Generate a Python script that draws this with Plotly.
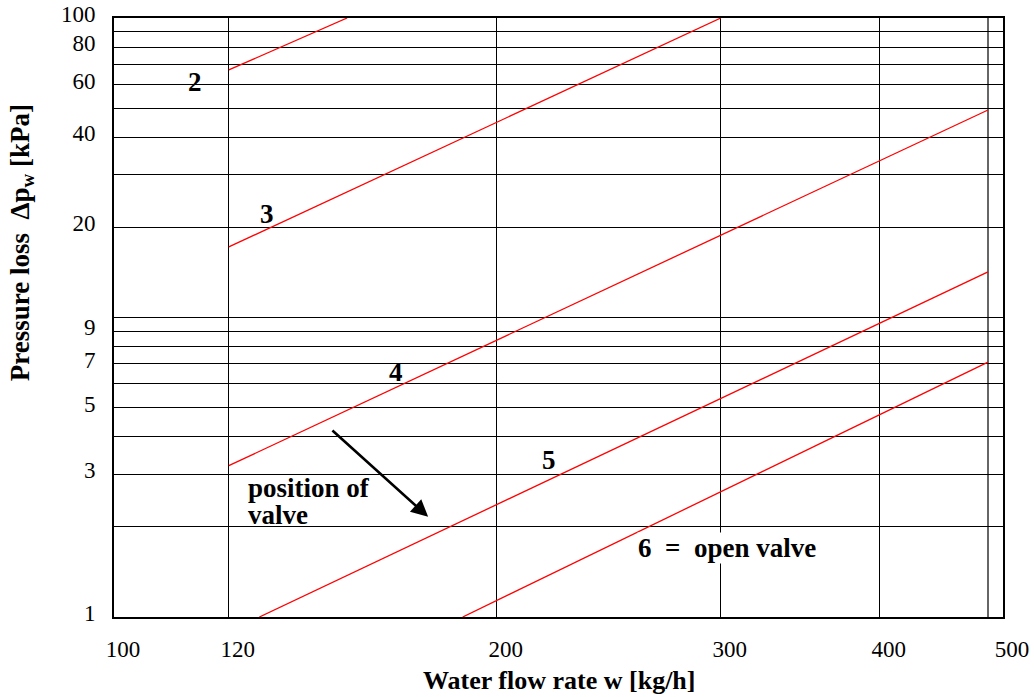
import numpy as np
import plotly.graph_objects as go

# Valve position curves (straight lines on log-log axes)
positions = ["2", "3", "4", "5", "6"]
flow_start = [123.1, 123.1, 123.1, 130.1, 188.0]
flow_end = [152.5, 300.0, 486.6, 486.6, 486.6]
dp_start = [67.1, 17.2, 3.2, 1.0, 1.0]
dp_end = [100.0, 100.0, 49.3, 14.2, 7.1]

# Curve label anchor points (flow, pressure loss)
label_text = ["2", "3", "4", "5", "6  =  open valve"]
label_flow = [115.8, 131.9, 166.6, 219.8, 303.3]
label_dp = [61.1, 22.2, 6.58, 3.34, 1.70]

# Axis ticks and grid
x_gridvals = [100, 123.1, 200, 300, 400, 500]
x_ticktext = ["100", "120", "200", "300", "400", "500"]
x_extra_grid = [486.6]
y_tickvals = [1, 3, 5, 7, 9, 20, 40, 60, 80, 100]
y_ticktext = ["1", "3", "5", "7", "9", "20", "40", "60", "80", "100"]
y_extra_grid = [2, 4, 6, 8, 10, 30, 50, 70, 90]

# "position of valve" note lines and arrow (flow, pressure loss)
note_lines = ["position of", "valve"]
note_flow = 127.3
note_dp = [2.70, 2.19]
arrow_tail = (148.1, 4.24)
arrow_head = (176.6, 2.16)

SERIF = "Liberation Serif"
L10 = np.log10
BOLD = dict(family=SERIF, size=27, color="black", weight="bold")

fig = go.Figure()
for name, w0, w1, p0, p1 in zip(positions, flow_start, flow_end, dp_start, dp_end):
    fig.add_trace(go.Scatter(
        x=[w0, w1], y=[p0, p1], mode="lines", name=name,
        line=dict(color="#ff0000", width=1.3), showlegend=False,
    ))

annotations = []
for t, w, p in zip(label_text, label_flow, label_dp):
    annotations.append(dict(
        x=L10(w), y=L10(p), xref="x", yref="y", text=t, showarrow=False,
        font=BOLD, borderpad=0,
        bgcolor="white" if "open" in t else "rgba(0,0,0,0)",
        xanchor="center", yanchor="middle",
    ))

for t, p in zip(note_lines, note_dp):
    annotations.append(dict(
        x=L10(note_flow), y=L10(p), xref="x", yref="y",
        text=t, showarrow=False, xanchor="left", yanchor="middle",
        font=BOLD, borderpad=0,
    ))

annotations.append(dict(
    x=L10(arrow_head[0]), y=L10(arrow_head[1]), xref="x", yref="y",
    ax=L10(arrow_tail[0]), ay=L10(arrow_tail[1]), axref="x", ayref="y",
    text="", showarrow=True, arrowhead=2, arrowsize=1.3, arrowwidth=2.6,
    arrowcolor="black", standoff=0, startstandoff=0,
))

annotations.append(dict(
    x=0.5, y=0, xref="paper", yref="paper", yanchor="middle", yshift=-63,
    text="Water flow rate w [kg/h]", showarrow=False, borderpad=0,
    font=dict(family=SERIF, size=26, color="black", weight="bold"),
))
annotations.append(dict(
    x=0, y=0.624, xref="paper", yref="paper", xshift=-92,
    xanchor="center", yanchor="middle", textangle=-90, borderpad=0,
    text="Pressure loss  \u0394p<sub>w</sub> [kPa]", showarrow=False, font=BOLD,
))

fig.update_layout(
    width=1034, height=697,
    margin=dict(l=114, r=31, t=18, b=80, autoexpand=False),
    paper_bgcolor="white", plot_bgcolor="white",
    annotations=annotations,
    xaxis=dict(
        type="log", range=[L10(100), L10(500)], automargin=False,
        tickmode="array", tickvals=x_gridvals, ticktext=x_ticktext,
        showgrid=True, gridcolor="black", gridwidth=1,
        showline=True, linecolor="black", linewidth=2, mirror=True,
        ticks="", ticklabelshift=9, ticklabelstandoff=10, zeroline=False,
        tickfont=dict(family=SERIF, size=23, color="black"),
        minor=dict(tickmode="array", tickvals=x_extra_grid, showgrid=True,
                   gridcolor="#666666", gridwidth=2),
    ),
    yaxis=dict(
        type="log", range=[L10(1), L10(100)], automargin=False,
        tickmode="array", tickvals=y_tickvals, ticktext=y_ticktext,
        showgrid=True, gridcolor="black", gridwidth=1,
        showline=True, linecolor="black", linewidth=2, mirror=True,
        ticks="", ticklabelshift=-4, ticklabelstandoff=12, zeroline=False,
        tickfont=dict(family=SERIF, size=23, color="black"),
        minor=dict(tickmode="array", tickvals=y_extra_grid, showgrid=True,
                   gridcolor="black", gridwidth=1),
    ),
)

fig.write_html("out.html")
